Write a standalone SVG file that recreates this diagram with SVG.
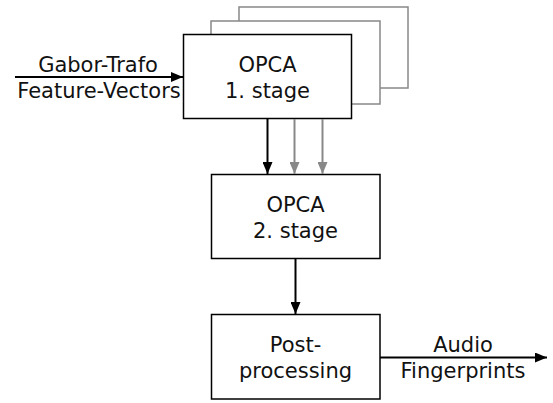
<svg xmlns="http://www.w3.org/2000/svg" width="553" height="403" viewBox="0 0 553 403">
  <defs>
    <marker id="ah" markerWidth="12" markerHeight="10" refX="12" refY="5" orient="auto" markerUnits="userSpaceOnUse">
      <path d="M0,0 L12,5 L0,10 Z" fill="#000"/>
    </marker>
    <marker id="ahg" markerWidth="12" markerHeight="10" refX="12" refY="5" orient="auto" markerUnits="userSpaceOnUse">
      <path d="M0,0 L12,5 L0,10 Z" fill="#888"/>
    </marker>
    <style>
      .box { fill: #fff; stroke: #000; stroke-width: 1.5; }
      .shadow { fill: #fff; stroke: #888; stroke-width: 1.5; }
      .lbl { font-family: "DejaVu Sans", sans-serif; font-size: 21px; fill: #111; text-anchor: middle; }
      .conn { stroke: #000; stroke-width: 2; fill: none; }
      .conng { stroke: #888; stroke-width: 2; fill: none; }
    </style>
  </defs>
  <rect width="553" height="403" fill="#fff"/>

  <g id="opca1-copy2">
    <rect class="shadow" x="239" y="7" width="169" height="81"/>
  </g>
  <g id="opca1-copy1">
    <rect class="shadow" x="211" y="21" width="169" height="83"/>
  </g>
  <g id="opca1">
    <rect class="box" x="183.5" y="34.5" width="168" height="84"/>
    <text class="lbl" x="267.5" y="71.5">OPCA</text>
    <text class="lbl" x="267.5" y="97.5">1. stage</text>
  </g>
  <g id="opca2">
    <rect class="box" x="211.5" y="174.5" width="168.5" height="84"/>
    <text class="lbl" x="295.5" y="211.5">OPCA</text>
    <text class="lbl" x="295.5" y="237.5">2. stage</text>
  </g>
  <g id="post">
    <rect class="box" x="211.5" y="314.5" width="168.5" height="84.5"/>
    <text class="lbl" x="295.5" y="351.5">Post-</text>
    <text class="lbl" x="295.5" y="378">processing</text>
  </g>

  <g id="connectors">
    <line class="conn" x1="15" y1="77" x2="183" y2="77" marker-end="url(#ah)"/>
    <line class="conn" x1="267.5" y1="119" x2="267.5" y2="174" marker-end="url(#ah)"/>
    <line class="conng" x1="294.5" y1="119" x2="294.5" y2="174" marker-end="url(#ahg)"/>
    <line class="conng" x1="322.5" y1="119" x2="322.5" y2="174" marker-end="url(#ahg)"/>
    <line class="conn" x1="295.5" y1="259" x2="295.5" y2="314" marker-end="url(#ah)"/>
    <line class="conn" x1="380" y1="357.5" x2="547" y2="357.5" marker-end="url(#ah)"/>
  </g>

  <g id="labels">
    <text class="lbl" x="98" y="71.5">Gabor-Trafo</text>
    <text class="lbl" x="99" y="97.5">Feature-Vectors</text>
    <text class="lbl" x="463" y="351.5">Audio</text>
    <text class="lbl" x="463" y="378">Fingerprints</text>
  </g>
</svg>
